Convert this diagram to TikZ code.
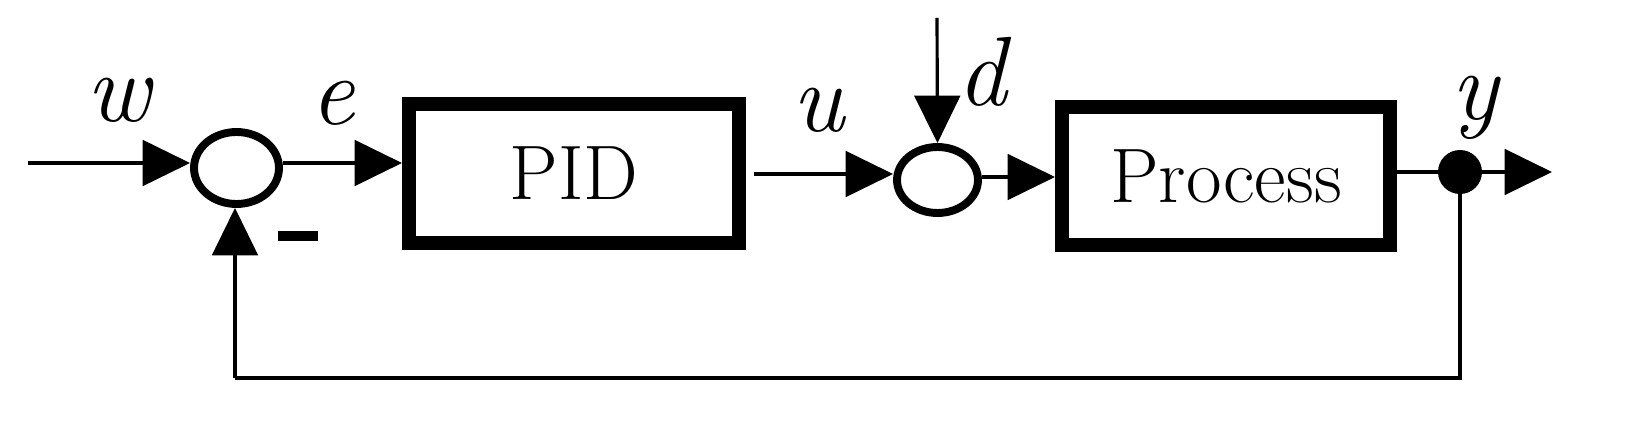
\documentclass[tikz,border=0pt]{standalone}
\usetikzlibrary{arrows.meta,shapes.geometric}
\begin{document}
\begin{tikzpicture}[x=0.02cm,y=-0.02cm,
  sig/.style={line width=1.8pt,-{Triangle[length=27pt,width=26pt]}},
  plain/.style={line width=1.8pt},
  blk/.style={draw,line width=8pt,inner sep=0pt,font=\fontsize{44}{50}\selectfont},
  sumj/.style={draw,ellipse,line width=4.5pt,inner sep=0pt},
  lab/.style={font=\fontsize{56}{60}\selectfont\itshape}]
\node[blk,minimum width=6.6cm,minimum height=2.78cm] (pid) at (574,173.5) {PID};
\node[blk,minimum width=6.56cm,minimum height=2.76cm] (proc) at (1226,176) {Process};
\node[sumj,minimum width=1.7cm,minimum height=1.44cm] (s1) at (236.5,168) {};
\node[sumj,minimum width=1.62cm,minimum height=1.32cm] (s2) at (937.5,180) {};
\node[circle,fill,minimum size=0.88cm,inner sep=0pt] (dot) at (1460,172) {};
\coordinate (win) at (28,163);
\coordinate (din) at (937,18);
\coordinate (yout) at (1552,172);
\coordinate (uout) at (754,174);
\coordinate (fb1) at (1460,378);
\coordinate (fb2) at (235,378);
\draw[sig] (win) -- (win -| s1.west);
\draw[sig] (s1.east |- 0,163) -- (pid.west |- 0,163);
\draw[sig] (uout) -- (s2.west |- uout);
\draw[sig] (din) -- (s2.north);
\draw[sig] (s2.east |- 0,177) -- (proc.west |- 0,177);
\draw[plain] (proc.east |- dot) -- (dot);
\draw[sig] (dot) -- (yout);
\draw[plain] (dot) -- (fb1) -- (fb2);
\draw[sig] (fb2) -- (s1.south -| fb2);
\draw[line width=5.7pt] (278,236) -- (318,236);
\node[lab] (w) at (118,100) {w};
\node[lab] (e) at (333,103) {e};
\node[lab] (u) at (818,110) {u};
\node[lab] (d) at (982,72) {d};
\node[lab] (y) at (1475,108) {y};
\pgfresetboundingbox
\path[use as bounding box] (0,0) rectangle (1644,432);
\end{tikzpicture}
\end{document}
